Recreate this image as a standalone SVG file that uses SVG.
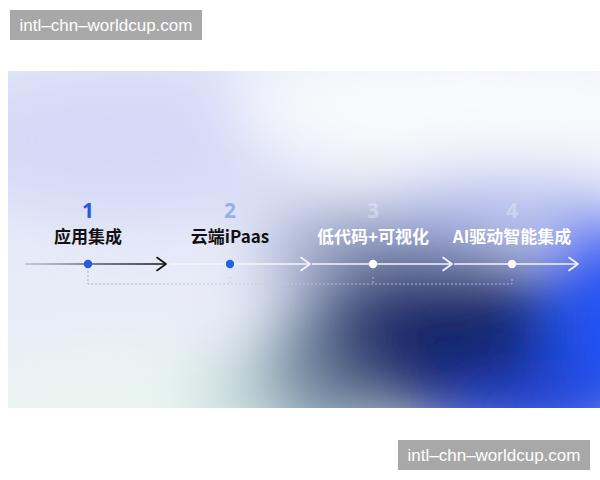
<svg xmlns="http://www.w3.org/2000/svg" width="600" height="480" viewBox="0 0 600 480">
<style>
.wm{fill:#a8a8a8}
.wmt{font-family:"Liberation Sans",Arial,sans-serif;font-size:17px;fill:#ffffff}
.lbl{font-family:"Noto Sans CJK SC","Noto Sans",sans-serif;font-size:17px;font-weight:bold;text-anchor:middle}
.num{font-family:"Noto Sans","Liberation Sans",sans-serif;font-size:21px;font-weight:bold;text-anchor:middle}
.chev{fill:none;stroke-width:1.6;stroke-linecap:round;stroke-linejoin:round}
.dash{fill:none;stroke-width:0.8;stroke-dasharray:2 2}
</style>
<defs>
<clipPath id="clip"><rect x="8" y="71" width="592" height="337"/></clipPath>
<filter id="blur" x="-50%" y="-50%" width="200%" height="200%"><feGaussianBlur stdDeviation="32"/></filter>
<linearGradient id="l1" x1="25" y1="0" x2="167" y2="0" gradientUnits="userSpaceOnUse">
<stop offset="0" stop-color="#9aa0b0" stop-opacity="0.6"/><stop offset="0.5" stop-color="#555a66"/><stop offset="1" stop-color="#111111"/>
</linearGradient>
<linearGradient id="d1" x1="88" y1="0" x2="512" y2="0" gradientUnits="userSpaceOnUse">
<stop offset="0" stop-color="#9aa0aa"/><stop offset="0.4" stop-color="#c8ccd6"/><stop offset="1" stop-color="#c0c8ee"/>
</linearGradient>
</defs>
<rect width="600" height="480" fill="#ffffff"/>
<g id="background" clip-path="url(#clip)">
<rect x="8" y="71" width="592" height="337" fill="#e8ebf8"/>
<g filter="url(#blur)">
<ellipse cx="130" cy="140" rx="200" ry="80" fill="#d4d9f7"/>
<ellipse cx="470" cy="110" rx="240" ry="65" fill="#f9fafd"/>
<ellipse cx="130" cy="400" rx="190" ry="55" fill="#eaf6f1"/>
<ellipse cx="250" cy="395" rx="60" ry="40" fill="#c2d8d8"/>
<ellipse cx="370" cy="250" rx="110" ry="45" fill="#9aa5c8"/>
<ellipse cx="500" cy="210" rx="110" ry="32" fill="#a6b3ea"/>
<ellipse cx="330" cy="370" rx="70" ry="70" fill="#7890a6"/>
<ellipse cx="400" cy="330" rx="90" ry="75" fill="#3c4a78"/>
<ellipse cx="475" cy="345" rx="110" ry="85" fill="#18256a"/>
<ellipse cx="610" cy="325" rx="65" ry="110" fill="#2453f4"/>
<ellipse cx="540" cy="415" rx="100" ry="35" fill="#2546da"/>
</g>
</g>
<g id="watermark-top">
<rect class="wm" x="10" y="10" width="192" height="30"/>
<text class="wmt" x="106" y="31" text-anchor="middle">intl–chn–worldcup.com</text>
</g>
<g id="watermark-bottom">
<rect class="wm" x="398" y="440" width="192" height="30"/>
<text class="wmt" x="494" y="461" text-anchor="middle">intl–chn–worldcup.com</text>
</g>
<g id="connectors">
<line x1="25" y1="264" x2="166" y2="264" stroke="url(#l1)" stroke-width="1.4"/>
<polyline class="chev" stroke="#111111" points="157,257.5 166,264 157,270.5"/>
<line x1="170" y1="264" x2="309" y2="264" stroke="#f4f6fb" stroke-width="1.4"/>
<polyline class="chev" stroke="#f4f6fb" points="301,257.5 310,264 301,270.5"/>
<line x1="312" y1="264" x2="451" y2="264" stroke="#f4f6fb" stroke-width="1.4"/>
<polyline class="chev" stroke="#f4f6fb" points="443,257.5 452,264 443,270.5"/>
<line x1="454" y1="264" x2="577" y2="264" stroke="#f4f6fb" stroke-width="1.4"/>
<polyline class="chev" stroke="#f4f6fb" points="569,257.5 578,264 569,270.5"/>
<path class="dash" stroke="url(#d1)" d="M88,271 V284 H512 V277"/>
<path class="dash" stroke="#c8cde0" d="M230,277 V284"/>
<path class="dash" stroke="#c8cde0" d="M373,277 V284"/>
</g>
<g id="node1">
<text class="num" x="88" y="218" fill="#2a5ad6">1</text>
<text class="lbl" x="88" y="243" fill="#111111">应用集成</text>
<circle cx="88" cy="264" r="4.2" fill="#2a5ad6"/>
</g>
<g id="node2">
<text class="num" x="230" y="218" fill="#9aaee6">2</text>
<text class="lbl" x="230" y="243" fill="#111111">云端iPaas</text>
<circle cx="230" cy="264" r="4.2" fill="#1e66e0"/>
</g>
<g id="node3">
<text class="num" x="373" y="218" fill="#e4e8f4" fill-opacity="0.5">3</text>
<text class="lbl" x="373" y="243" fill="#ffffff">低代码+可视化</text>
<circle cx="373" cy="264" r="4.2" fill="#ffffff"/>
</g>
<g id="node4">
<text class="num" x="512" y="218" fill="#dfe5f6" fill-opacity="0.55">4</text>
<text class="lbl" x="512" y="243" fill="#ffffff">AI驱动智能集成</text>
<circle cx="512" cy="264" r="4.2" fill="#ffffff"/>
</g>
</svg>
